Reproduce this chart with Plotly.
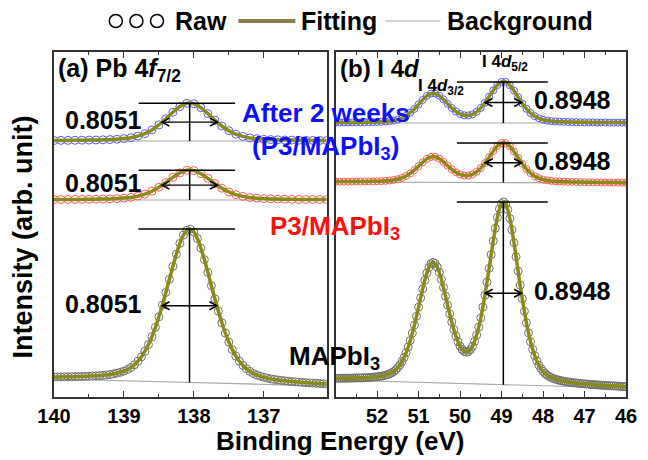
import numpy as np
import plotly.graph_objects as go

# ---------------- data ----------------
# energy grids (binding energy, eV)
energy_pb_fine = np.round(np.linspace(140.0, 136.1, 79), 2)
energy_pb = np.round(np.linspace(140.0, 136.1, 40), 2)
energy_i_fine = np.round(np.linspace(53.0, 46.0, 141), 2)
energy_i = np.round(np.linspace(53.0, 46.0, 71), 2)

# (a) Pb 4f7/2 spectra (arb. units, offset-stacked)
pb_mapbi3 = [20.1, 20.1, 20.1, 20.2, 20.2, 20.3, 20.4, 20.4, 20.5, 20.6,
             20.8, 21.0, 21.1, 21.4, 21.6, 22.0, 22.4, 23.1, 23.8, 24.7,
             25.9, 27.5, 29.5, 32.2, 35.8, 40.2, 45.8, 52.4, 60.3, 69.7,
             80.2, 92.0, 104.6, 117.7, 130.6, 142.9, 153.6, 161.9, 166.7, 167.9,
             165.0, 158.5, 149.0, 137.4, 124.6, 111.3, 98.2, 85.8, 74.2, 64.0,
             54.9, 47.4, 40.9, 35.8, 31.6, 28.3, 25.6, 23.5, 22.0, 20.7,
             19.7, 18.8, 18.1, 17.6, 17.1, 16.6, 16.2, 15.8, 15.4, 15.2,
             14.9, 14.6, 14.3, 14.1, 13.9, 13.7, 13.5, 13.2, 13.0]
pb_p3 = [197.4, 197.5, 197.5, 197.6, 197.6, 197.7, 197.8, 198.0, 198.1, 198.4,
         198.9, 199.6, 200.9, 202.9, 205.8, 209.7, 214.5, 219.6, 224.1, 226.7,
         226.4, 223.3, 218.6, 213.5, 208.8, 205.1, 202.4, 200.6, 199.5, 198.8,
         198.4, 198.1, 197.9, 197.8, 197.7, 197.6, 197.5, 197.5, 197.5, 197.4]
pb_aged = [256.5, 256.6, 256.6, 256.7, 256.8, 256.9, 257.0, 257.2, 257.4, 257.8,
           258.4, 259.3, 260.9, 263.4, 267.1, 272.1, 278.2, 284.7, 290.4, 293.7,
           293.3, 289.4, 283.4, 276.9, 271.0, 266.3, 262.8, 260.6, 259.1, 258.3,
           257.7, 257.4, 257.2, 257.0, 256.9, 256.8, 256.7, 256.6, 256.6, 256.5]

# (b) I 4d spectra
i_mapbi3 = [18.7, 18.7, 18.8, 18.8, 18.8, 18.8, 18.8, 18.9, 18.9, 19.0,
            19.0, 19.1, 19.1, 19.2, 19.3, 19.4, 19.5, 19.7, 19.8, 20.0,
            20.2, 20.5, 20.8, 21.2, 21.7, 22.4, 23.2, 24.2, 25.5, 27.2,
            29.4, 32.1, 35.4, 39.5, 44.3, 50.0, 56.5, 63.9, 72.0, 80.7,
            89.9, 99.1, 108.1, 116.6, 123.9, 129.5, 133.2, 134.6, 133.5, 130.0,
            124.6, 117.6, 109.5, 100.8, 91.9, 83.2, 75.0, 67.5, 60.9, 55.3,
            50.9, 47.6, 45.6, 44.9, 45.4, 47.4, 50.7, 55.6, 61.9, 69.8,
            79.1, 89.9, 101.9, 114.9, 128.6, 142.5, 156.0, 168.7, 179.6, 188.0,
            193.4, 195.1, 193.0, 187.3, 178.5, 167.2, 154.2, 140.3, 125.9, 111.8,
            98.3, 85.7, 74.2, 64.1, 55.2, 47.7, 41.3, 36.1, 31.8, 28.4,
            25.7, 23.5, 21.8, 20.5, 19.4, 18.5, 17.8, 17.2, 16.6, 16.2,
            15.8, 15.4, 15.1, 14.8, 14.5, 14.2, 14.0, 13.8, 13.5, 13.3,
            13.1, 13.0, 12.8, 12.6, 12.4, 12.3, 12.1, 12.0, 11.8, 11.7,
            11.6, 11.4, 11.3, 11.2, 11.1, 11.0, 10.9, 10.7, 10.6, 10.5,
            10.4]
i_p3 = [215.4, 215.4, 215.4, 215.4, 215.5, 215.5, 215.5, 215.6, 215.6, 215.7,
        215.8, 215.9, 216.1, 216.5, 217.0, 217.8, 219.1, 221.0, 223.6, 227.0,
        230.8, 234.7, 238.1, 240.1, 240.2, 238.3, 235.1, 231.3, 227.7, 224.7,
        222.6, 221.5, 221.5, 222.7, 225.2, 228.9, 233.9, 239.8, 245.8, 251.0,
        254.0, 253.9, 250.8, 245.5, 239.3, 233.2, 228.0, 223.9, 220.8, 218.8,
        217.4, 216.6, 216.1, 215.7, 215.5, 215.3, 215.2, 215.1, 215.0, 214.9,
        214.8, 214.7, 214.7, 214.6, 214.5, 214.5, 214.5, 214.4, 214.4, 214.3,
        214.3]
i_aged = [274.4, 274.5, 274.5, 274.5, 274.6, 274.6, 274.7, 274.8, 274.8, 274.9,
          275.1, 275.2, 275.5, 275.9, 276.5, 277.5, 279.0, 281.2, 284.3, 288.1,
          292.6, 297.1, 301.1, 303.4, 303.5, 301.3, 297.6, 293.2, 289.0, 285.5,
          283.0, 281.7, 281.6, 282.7, 285.2, 289.1, 294.3, 300.4, 306.6, 312.0,
          315.1, 315.1, 311.8, 306.3, 299.9, 293.6, 288.2, 283.9, 280.8, 278.7,
          277.3, 276.4, 275.9, 275.6, 275.3, 275.2, 275.0, 274.9, 274.8, 274.8,
          274.7, 274.6, 274.6, 274.5, 274.5, 274.5, 274.4, 274.4, 274.4, 274.4,
          274.3]

# backgrounds (value at the two ends of each panel)
bg_energy_pb = [140.0, 136.1]
bg_pb_mapbi3 = [18.0, 11.0]
bg_pb_p3 = [197.0, 197.0]
bg_pb_aged = [256.0, 256.0]
bg_energy_i = [53.0, 46.0]
bg_i_mapbi3 = [17.0, 9.0]
bg_i_p3 = [215.0, 214.0]
bg_i_aged = [274.0, 274.0]

fwhm_labels = ["0.8051", "0.8948"]
pb_ticks = [140, 139, 138, 137]
i_ticks = [52, 51, 50, 49, 48, 47, 46]

# ---------------- geometry / styles ----------------
FONT = "Liberation Sans, Arial, Helvetica, sans-serif"
FIT = "#8a8a18"
BGC = "#a8a8a8"
FRAME = "#333333"

PAGE_OFF = 8                      # the page body adds an 8 px margin
W, H = 648 - PAGE_OFF, 460 - PAGE_OFF
PLOT_L, PLOT_R, PLOT_T, PLOT_B = 54, 637, 52, 397     # plot area in page pixels
L = PLOT_L - PAGE_OFF
T = PLOT_T - PAGE_OFF
R = W - (PLOT_R - PAGE_OFF)
B = H - (PLOT_B - PAGE_OFF)
pw = PLOT_R - PLOT_L
ph = PLOT_B - PLOT_T
A_RIGHT, B_LEFT = 332, 341
X_RANGE_A = [140, 136.1]
X_RANGE_B = [53, 46]


def px(x):
    return (x - PLOT_L) / pw


def py(y):
    return (PLOT_B - y) / ph


PPU = {"x": (A_RIGHT - PLOT_L) / abs(X_RANGE_A[0] - X_RANGE_A[1]),
       "x2": (PLOT_R - B_LEFT) / abs(X_RANGE_B[0] - X_RANGE_B[1])}

fig = go.Figure()


def add_spectrum(E, y, xa, ya, bgE, bgV, mcolor, msize):
    fig.add_trace(go.Scatter(x=bgE, y=bgV, mode="lines", xaxis=xa, yaxis=ya,
                             line=dict(color=BGC, width=1.2), showlegend=False,
                             hoverinfo="skip"))
    fig.add_trace(go.Scatter(x=E, y=y, mode="markers", xaxis=xa, yaxis=ya,
                             marker=dict(symbol="circle-open", size=msize, color=mcolor,
                                         line=dict(width=1, color=mcolor)),
                             showlegend=False))
    fig.add_trace(go.Scatter(x=E, y=y, mode="lines", xaxis=xa, yaxis=ya,
                             line=dict(color=FIT, width=3.5, shape="spline", smoothing=0.6),
                             showlegend=False))


def peak_info(E, y, bgE, bgV):
    E = np.asarray(E, float)
    y = np.asarray(y, float)
    k = int(np.argmax(y))
    top = y[k]
    bg_pk = float(np.interp(E[k], bgE[::-1], bgV[::-1]))
    half = bg_pk + (top - bg_pk) / 2
    i = k
    while i > 0 and y[i - 1] >= half:
        i -= 1
    e_hi = E[i - 1] + (half - y[i - 1]) * (E[i] - E[i - 1]) / (y[i] - y[i - 1])
    j = k
    while j < len(y) - 1 and y[j + 1] >= half:
        j += 1
    e_lo = E[j] + (half - y[j]) * (E[j + 1] - E[j]) / (y[j + 1] - y[j])
    center = (e_hi + e_lo) / 2
    return center, top, bg_pk, half, e_hi, e_lo


def add_markers(info, xa, ya, left_ext, right_ext, label, side, lab_off):
    center, top, bg_pk, half, e_hi, e_lo = info
    line = dict(color="black", width=1.5)
    fig.add_shape(type="line", xref=xa, yref=ya, x0=center + left_ext, x1=center - right_ext,
                  y0=top, y1=top, line=line)
    fig.add_shape(type="line", xref=xa, yref=ya, x0=center, x1=center,
                  y0=bg_pk, y1=top, line=line)
    # double headed arrow across the FWHM
    fig.add_shape(type="line", xref=xa, yref=ya, x0=e_hi, x1=e_lo, y0=half, y1=half,
                  line=dict(color="black", width=1.4))
    hl = 7.5 / PPU[xa]
    hw = 4.0
    fig.add_shape(type="path", xref=xa, yref=ya,
                  path=f"M {e_hi - hl},{half + hw} L {e_hi},{half} L {e_hi - hl},{half - hw}",
                  line=dict(color="black", width=1.6))
    fig.add_shape(type="path", xref=xa, yref=ya,
                  path=f"M {e_lo + hl},{half + hw} L {e_lo},{half} L {e_lo + hl},{half - hw}",
                  line=dict(color="black", width=1.6))
    if side == "left":
        fig.add_annotation(x=e_hi + lab_off, y=half + 2, xref=xa, yref=ya,
                           text=f"<b>{label}</b>", showarrow=False, xanchor="right",
                           yanchor="middle", font=dict(family=FONT, size=25, color="black"))
    else:
        fig.add_annotation(x=e_lo - lab_off, y=half + 2, xref=xa, yref=ya,
                           text=f"<b>{label}</b>", showarrow=False, xanchor="left",
                           yanchor="middle", font=dict(family=FONT, size=25, color="black"))


# panel (a)
add_spectrum(energy_pb_fine, pb_mapbi3, "x", "y", bg_energy_pb, bg_pb_mapbi3, "#707070", 8)
add_spectrum(energy_pb, pb_p3, "x", "y", bg_energy_pb, bg_pb_p3, "#ff5a5a", 8)
add_spectrum(energy_pb, pb_aged, "x", "y", bg_energy_pb, bg_pb_aged, "#5a5aff", 8)
# panel (b)
add_spectrum(energy_i_fine, i_mapbi3, "x2", "y2", bg_energy_i, bg_i_mapbi3, "#707070", 8)
add_spectrum(energy_i, i_p3, "x2", "y2", bg_energy_i, bg_i_p3, "#ff5a5a", 7)
add_spectrum(energy_i, i_aged, "x2", "y2", bg_energy_i, bg_i_aged, "#5a5aff", 7)

for E, y, bgV in [(energy_pb_fine, pb_mapbi3, bg_pb_mapbi3),
                  (energy_pb, pb_p3, bg_pb_p3),
                  (energy_pb, pb_aged, bg_pb_aged)]:
    add_markers(peak_info(E, y, bg_energy_pb, bgV), "x", "y", 0.73, 0.65,
                fwhm_labels[0], "left", 0.26)
for E, y, bgV in [(energy_i_fine, i_mapbi3, bg_i_mapbi3),
                  (energy_i, i_p3, bg_i_p3),
                  (energy_i, i_aged, bg_i_aged)]:
    add_markers(peak_info(E, y, bg_energy_i, bgV), "x2", "y2", 1.12, 1.07,
                fwhm_labels[1], "right", 0.26)

# ---------------- axes ----------------
common_x = dict(ticks="inside", ticklen=6, tickwidth=1.3, tickcolor=FRAME,
                showline=True, linecolor=FRAME, linewidth=1.5, mirror="allticks",
                showgrid=False, zeroline=False,
                tickfont=dict(family=FONT, size=20, color="black"),
                minor=dict(ticks="inside", ticklen=3.5, tickwidth=1.3, tickcolor=FRAME,
                           tickmode="linear", tick0=0, dtick=0.5, showgrid=False))
common_y = dict(showticklabels=False, ticks="", showline=True, linecolor=FRAME,
                linewidth=1.5, mirror=True, showgrid=False, zeroline=False,
                range=[0, ph], domain=[0, 1])

fig.update_layout(
    width=W, height=H, margin=dict(l=L, r=R, t=T, b=B, pad=0),
    paper_bgcolor="white", plot_bgcolor="white", showlegend=False,
    xaxis=dict(domain=[0, px(A_RIGHT)], range=X_RANGE_A, tickmode="array",
               tickvals=pb_ticks, ticktext=[f"<b>{t}</b>" for t in pb_ticks],
               anchor="y", **common_x),
    xaxis2=dict(domain=[px(B_LEFT), 1], range=X_RANGE_B, tickmode="array",
                tickvals=i_ticks, ticktext=[f"<b>{t}</b>" for t in i_ticks],
                anchor="y2", **common_x),
    yaxis=dict(anchor="x", **common_y),
    yaxis2=dict(anchor="x2", **common_y),
)


# ---------------- text ----------------
def txt(text, x, y, size, color="black", xanchor="center", angle=0):
    fig.add_annotation(text=text, x=px(x), y=py(y), xref="paper", yref="paper",
                       showarrow=False, xanchor=xanchor, yanchor="middle", textangle=angle,
                       font=dict(family=FONT, size=size, color=color))


txt("<b>(a) Pb 4<i>f</i><sub>7/2</sub></b>", 56, 70, 25, xanchor="left")
txt("<b>(b) I 4<i>d</i></b>", 343, 69, 24, xanchor="left")
txt("<b>I 4<i>d</i><sub>5/2</sub></b>", 514, 63, 17)
txt("<b>I 4<i>d</i><sub>3/2</sub></b>", 448, 87, 17)
txt("<b>After 2 weeks</b>", 331, 113, 26, color="#1010ff")
txt("<b>(P3/MAPbI<sub>3</sub>)</b>", 331, 147, 26, color="#1010ff")
txt("<b>P3/MAPbI<sub>3</sub></b>", 340, 227, 26, color="#ff1010")
txt("<b>MAPbI<sub>3</sub></b>", 340, 357, 26)
txt("<b>Binding Energy (eV)</b>", 345, 441, 26)
txt("<b>Intensity (arb. unit)</b>", 22, 237, 27, angle=-90)

# ---------------- custom legend ----------------
leg_y = py(21)
for cx in [117, 138, 159]:
    fig.add_shape(type="circle", xref="paper", yref="paper", xsizemode="pixel",
                  ysizemode="pixel", xanchor=px(cx), yanchor=leg_y,
                  x0=-6.5, x1=6.5, y0=-6.5, y1=6.5, line=dict(color="black", width=1.5))
txt("<b>Raw</b>", 175, 21, 25, xanchor="left")
fig.add_shape(type="line", xref="paper", yref="paper", x0=px(242), x1=px(300),
              y0=leg_y, y1=leg_y, line=dict(color="#8c7e48", width=4))
txt("<b>Fitting</b>", 304, 21, 25, xanchor="left")
fig.add_shape(type="line", xref="paper", yref="paper", x0=px(392), x1=px(448),
              y0=leg_y, y1=leg_y, line=dict(color=BGC, width=1.2))
txt("<b>Background</b>", 453, 21, 25, xanchor="left")

fig.write_html("out.html", config={"displayModeBar": False})
